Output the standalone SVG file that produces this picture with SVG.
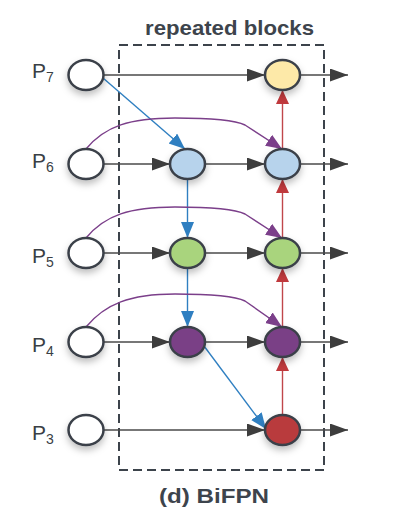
<svg xmlns="http://www.w3.org/2000/svg" width="400" height="518" viewBox="0 0 400 518">
<style>
.node{stroke:#3a4048;stroke-width:2.5;}
.h{stroke:#4a4a4a;stroke-width:1.5;fill:none;}
.b{stroke:#2f7fc1;stroke-width:1.4;fill:none;}
.r{stroke:#c0474b;stroke-width:1.4;fill:none;}
.p{stroke:#7b3f8a;stroke-width:1.4;fill:none;}
.lbl{font-family:"Liberation Sans",Arial,sans-serif;font-size:21px;fill:#3a3f45;}
.title{font-family:"Liberation Sans",Arial,sans-serif;font-weight:bold;fill:#3d444c;}
</style>
<defs>
<filter id="sh" x="-50%" y="-50%" width="200%" height="200%">
<feDropShadow dx="0" dy="4" stdDeviation="3.5" flood-color="#000" flood-opacity="0.25"/>
</filter>
<marker id="ah" markerUnits="userSpaceOnUse" markerWidth="20" markerHeight="14" refX="18" refY="6.5" orient="auto"><path d="M0,0 L18,6.5 L0,13 z" fill="#3d3d3d"/></marker>
<marker id="ab" markerUnits="userSpaceOnUse" markerWidth="20" markerHeight="14" refX="16" refY="6.5" orient="auto"><path d="M0,0 L16,6.5 L0,13 z" fill="#2f7fc1"/></marker>
<marker id="ar" markerUnits="userSpaceOnUse" markerWidth="20" markerHeight="14" refX="14" refY="6.5" orient="auto"><path d="M0,0 L14,6.5 L0,13 z" fill="#c0393d"/></marker>
<marker id="ap" markerUnits="userSpaceOnUse" markerWidth="20" markerHeight="14" refX="16" refY="6.5" orient="auto"><path d="M0,0 L16,6.5 L0,13 z" fill="#7b3f8a"/></marker>
</defs>
<rect x="0" y="0" width="400" height="518" fill="#ffffff"/>
<text class="title" x="145" y="35" font-size="21" textLength="169" lengthAdjust="spacingAndGlyphs">repeated blocks</text>
<text class="title" x="159" y="503" font-size="21" textLength="110" lengthAdjust="spacingAndGlyphs">(d) BiFPN</text>
<rect x="119" y="45" width="205" height="425" fill="none" stroke="#3c434b" stroke-width="2" stroke-dasharray="9,5"/>
<g id="connectors">
<path class="h" d="M104,75 H265" marker-end="url(#ah)"/>
<path class="h" d="M300,75 H348" marker-end="url(#ah)"/>
<path class="h" d="M104,164 H170" marker-end="url(#ah)"/>
<path class="h" d="M205,164 H265" marker-end="url(#ah)"/>
<path class="h" d="M300,164 H348" marker-end="url(#ah)"/>
<path class="h" d="M104,253 H170" marker-end="url(#ah)"/>
<path class="h" d="M205,253 H265" marker-end="url(#ah)"/>
<path class="h" d="M300,253 H348" marker-end="url(#ah)"/>
<path class="h" d="M104,342 H170" marker-end="url(#ah)"/>
<path class="h" d="M205,342 H265" marker-end="url(#ah)"/>
<path class="h" d="M300,342 H348" marker-end="url(#ah)"/>
<path class="h" d="M104,430 H265" marker-end="url(#ah)"/>
<path class="h" d="M300,430 H348" marker-end="url(#ah)"/>
<path class="b" d="M103,78 L185,149" marker-end="url(#ab)"/>
<path class="b" d="M187.5,179 V238" marker-end="url(#ab)"/>
<path class="b" d="M187.5,268 V327" marker-end="url(#ab)"/>
<path class="b" d="M204,346 L266,429" marker-end="url(#ab)"/>
<path class="r" d="M282.5,415 V357" marker-end="url(#ar)"/>
<path class="r" d="M282.5,327 V268" marker-end="url(#ar)"/>
<path class="r" d="M282.5,238 V179" marker-end="url(#ar)"/>
<path class="r" d="M282.5,149 V90" marker-end="url(#ar)"/>
<path class="p" d="M86,149 C105,126 130,118 175,118 C210,118 235,120 245,125 L282,149" marker-end="url(#ap)"/>
<path class="p" d="M86,238 C105,215 130,207 175,207 C210,207 235,209 245,214 L282,238" marker-end="url(#ap)"/>
<path class="p" d="M86,327 C105,304 130,294 175,294 C210,294 235,296 245,301 L282,327" marker-end="url(#ap)"/>
</g>
<g id="P7"><ellipse class="node" cx="86" cy="75" rx="17.5" ry="15" fill="#ffffff" filter="url(#sh)"/><text class="lbl" x="32" y="78">P<tspan font-size="14" dy="4">7</tspan></text></g>
<g id="P6"><ellipse class="node" cx="86" cy="164" rx="17.5" ry="15" fill="#ffffff" filter="url(#sh)"/><text class="lbl" x="32" y="168">P<tspan font-size="14" dy="4">6</tspan></text></g>
<g id="P5"><ellipse class="node" cx="86" cy="253" rx="17.5" ry="15" fill="#ffffff" filter="url(#sh)"/><text class="lbl" x="32" y="263">P<tspan font-size="14" dy="4">5</tspan></text></g>
<g id="P4"><ellipse class="node" cx="86" cy="342" rx="17.5" ry="15" fill="#ffffff" filter="url(#sh)"/><text class="lbl" x="32" y="352">P<tspan font-size="14" dy="4">4</tspan></text></g>
<g id="P3"><ellipse class="node" cx="86" cy="430" rx="17.5" ry="15" fill="#ffffff" filter="url(#sh)"/><text class="lbl" x="32" y="440">P<tspan font-size="14" dy="4">3</tspan></text></g>
<g id="m6"><ellipse class="node" cx="187.5" cy="164" rx="17.5" ry="15" fill="#b7d3ec" filter="url(#sh)"/></g>
<g id="m5"><ellipse class="node" cx="187.5" cy="253" rx="17.5" ry="15" fill="#a9d47d" filter="url(#sh)"/></g>
<g id="m4"><ellipse class="node" cx="187.5" cy="342" rx="17.5" ry="15" fill="#7a3f86" filter="url(#sh)"/></g>
<g id="o7"><ellipse class="node" cx="282.5" cy="75" rx="17.5" ry="15" fill="#fde9a8" filter="url(#sh)"/></g>
<g id="o6"><ellipse class="node" cx="282.5" cy="164" rx="17.5" ry="15" fill="#b7d3ec" filter="url(#sh)"/></g>
<g id="o5"><ellipse class="node" cx="282.5" cy="253" rx="17.5" ry="15" fill="#a9d47d" filter="url(#sh)"/></g>
<g id="o4"><ellipse class="node" cx="282.5" cy="342" rx="17.5" ry="15" fill="#7a3f86" filter="url(#sh)"/></g>
<g id="o3"><ellipse class="node" cx="282.5" cy="430" rx="17.5" ry="15" fill="#b93a3e" filter="url(#sh)"/></g>
</svg>
